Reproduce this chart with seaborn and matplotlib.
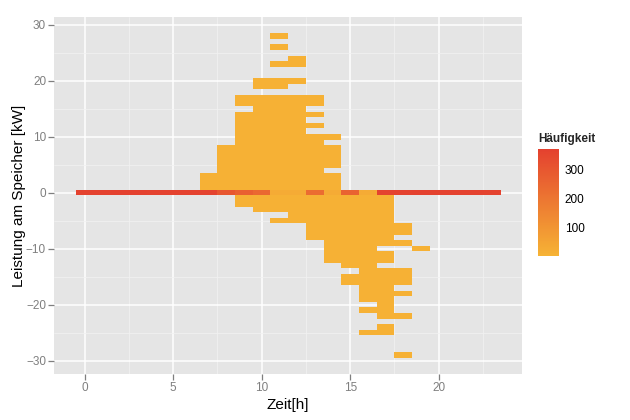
import pandas as pd
import seaborn as sns
import matplotlib.pyplot as plt
from matplotlib.colors import LinearSegmentedColormap

# hour of day (bin centres, 1 h wide)
hours = list(range(24))

# counts in the 0 kW row, one per hour
zero_row_counts = [365, 366, 368, 370, 367, 365, 366, 362,
                   300, 270, 240, 25, 25, 230, 25, 260,
                   25, 364, 366, 368, 367, 366, 365, 364]

# other occupied 1 kW bins per hour (besides 0 kW)
occupied_kw = [
    [], [], [], [], [], [], [],
    [1, 2, 3],
    [1, 2, 3, 4, 5, 6, 7, 8],
    [-2, -1, 1, 2, 3, 4, 5, 6, 7, 8, 9, 10, 11, 12, 13, 14, 16, 17],
    [-3, -2, -1, 1, 2, 3, 4, 5, 6, 7, 8, 9, 10, 11, 12, 13, 14, 15, 16, 17, 19, 20],
    [-5, -3, -2, -1, 1, 2, 3, 4, 5, 6, 7, 8, 9, 10, 11, 12, 13, 14, 15, 16, 17,
     19, 20, 23, 26, 28],
    [-5, -4, -3, -2, -1, 1, 2, 3, 4, 5, 6, 7, 8, 9, 10, 11, 12, 13, 14, 15, 16, 17,
     20, 23, 24],
    [-8, -7, -6, -5, -4, -3, -2, -1, 1, 2, 3, 4, 5, 6, 7, 8, 9, 10, 12, 14, 16, 17],
    [-12, -11, -10, -9, -8, -7, -6, -5, -4, -3, -2, -1, 1, 2, 3, 5, 6, 7, 8, 10],
    [-16, -15, -13, -12, -11, -10, -9, -8, -7, -6, -5, -4, -3, -2, -1],
    [-25, -21, -19, -18, -17, -16, -15, -14, -13, -12, -11, -10, -9, -8, -7, -6,
     -5, -4, -3, -2, -1],
    [-25, -24, -22, -21, -20, -19, -18, -17, -16, -15, -14, -12, -11, -9, -8, -7,
     -6, -5, -4, -3, -2, -1],
    [-29, -22, -18, -16, -15, -14, -9, -7, -6],
    [-10],
    [], [], [], [],
]

# all the other bins look the same light orange
other_count = 6

rows = []
for h in hours:
    rows.append((h, 0, zero_row_counts[h]))
    for k in occupied_kw[h]:
        rows.append((h, k, other_count))
df = pd.DataFrame(rows, columns=['hour', 'kw', 'count'])

cmap = LinearSegmentedColormap.from_list('haeufigkeit', ['#F6B335', '#E4412F'])

sns.set_theme(style='darkgrid', rc={'axes.facecolor': '#E5E5E5', 'grid.color': 'white'})
plt.rcParams['font.family'] = ['Liberation Sans', 'DejaVu Sans']

fig = plt.figure(figsize=(6.3, 4.2), dpi=100)
ax = fig.add_axes([54.4 / 630, 1 - 374 / 420, (522 - 54.4) / 630, (374 - 17) / 420])
cax = fig.add_axes([538 / 630, 1 - 256 / 420, 21 / 630, 107 / 420])

sns.histplot(data=df, x='hour', y='kw', weights='count', discrete=True,
             cmap=cmap, cbar=True, cbar_ax=cax,
             cbar_kws={'ticks': [100, 200, 300]}, ax=ax)

ax.set_xticks([0, 5, 10, 15, 20])
ax.set_yticks([-30, -20, -10, 0, 10, 20, 30])
ax.set_xticks([2.5, 7.5, 12.5, 17.5, 22.5], minor=True)
ax.set_yticks([-25, -15, -5, 5, 15, 25], minor=True)

# ggplot-like expansion of 5 % (set after the ticks so they don't widen it)
x0, x1 = df['hour'].min() - 0.5, df['hour'].max() + 0.5
y0, y1 = df['kw'].min() - 0.5, df['kw'].max() + 0.5
ax.set_xlim(x0 - 0.05 * (x1 - x0), x1 + 0.05 * (x1 - x0))
ax.set_ylim(y0 - 0.05 * (y1 - y0), y1 + 0.05 * (y1 - y0))

ax.grid(which='major', color='white', linewidth=1.1)
ax.grid(which='minor', color='#F2F2F2', linewidth=0.5)
ax.set_axisbelow(True)
for s in ax.spines.values():
    s.set_visible(False)
ax.tick_params(which='major', bottom=True, left=True, length=4, width=0.9,
               color='#7F7F7F', labelcolor='#7F7F7F', labelsize=8.5, pad=2)
ax.tick_params(which='minor', length=0)

ax.set_xlabel('Zeit[h]', fontsize=11, color='black', labelpad=3)
ax.set_ylabel('Leistung am Speicher [kW]', fontsize=11, color='black', labelpad=0)

cb = ax.collections[0].colorbar
cb.outline.set_visible(False)
cax.tick_params(left=True, right=True, direction='in', length=4, width=0.8,
                color='white', labelcolor='black', labelsize=8.5, pad=4)
cax.set_title('Häufigkeit', fontsize=8.5, fontweight='bold', loc='left', pad=5)

fig.savefig('out.png', dpi=100)
